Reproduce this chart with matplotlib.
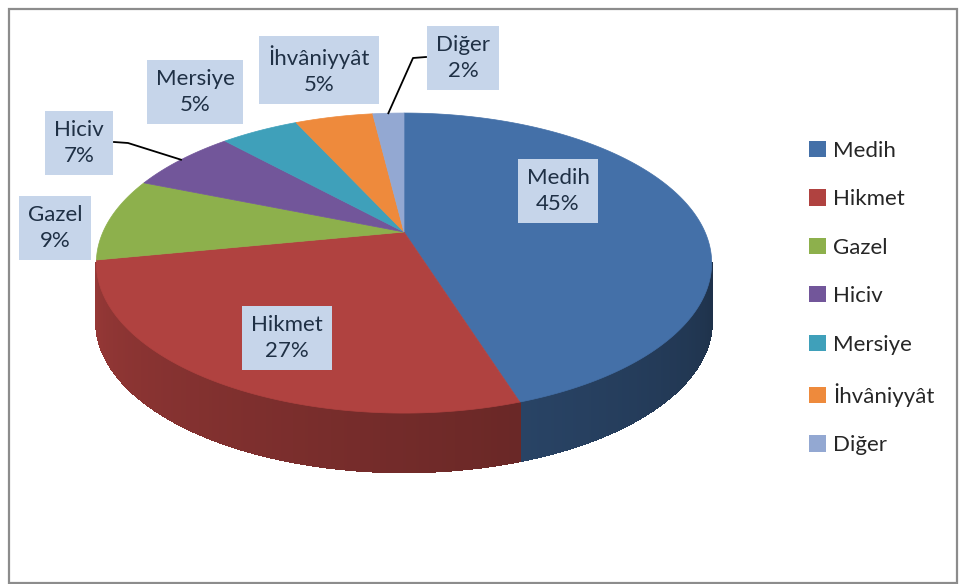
import numpy as np
import matplotlib
matplotlib.use("Agg")
import matplotlib.pyplot as plt
from matplotlib.collections import PolyCollection
from matplotlib.patches import Polygon, Rectangle, Patch
from matplotlib.colors import to_rgb

plt.rcParams["font.family"] = ["Lato", "DejaVu Sans"]

# data
categories = ["Medih", "Hikmet", "Gazel", "Hiciv", "Mersiye", "İhvâniyyât", "Diğer"]
shares = [45, 27, 9, 7, 5, 5, 2]
colors = ["#4470A8", "#B04240", "#8DB04C", "#72569A", "#3FA0BA", "#EE8A3C", "#93A8D2"]

# layout (pixel coordinates of the 960x584 canvas)
cx, cy = 404, 232          # pie apex on screen
ax_x, ax_y = 301, 143.6    # horizontal / depth scale
persp = 0.207              # perspective factor (back smaller than front)
depth = 59                 # thickness of the pie
label_pos = [(558, 191), (287, 338), (55, 228), (79, 143),
             (195, 92), (319, 70), (463, 58)]
leaders = {3: [(114, 142), (128, 143)], 6: [(426, 57), (413, 58)]}


def proj(t_deg, r=1.0):
    t = np.radians(t_deg)
    X, Z = r * np.cos(t), r * np.sin(t)
    w = 1 + persp * Z
    return cx + ax_x * X / w, cy - ax_y * Z / w


def shade(c, f):
    return tuple(min(1, v * f) for v in to_rgb(c))


fig = plt.figure(figsize=(9.6, 5.84), dpi=100)
ax = fig.add_axes([0, 0, 1, 1])
ax.set_xlim(0, 960)
ax.set_ylim(584, 0)
ax.axis("off")

ax.add_patch(Rectangle((9, 9), 948, 574, fill=False, edgecolor="#8C8C8C", lw=1.6))

total = sum(shares)
fracs = np.array(shares) / total
ends = 90 - np.cumsum(fracs) * 360
starts = np.concatenate([[90], ends[:-1]])

# side wall (visible front arc only)
t_min = -180 + np.degrees(np.arcsin(persp))
t_max = -np.degrees(np.arcsin(persp))
polys, fcs = [], []
for i in range(len(shares)):
    lo, hi = ends[i], starts[i]
    for off in (0, -360, 360):
        a, b = max(lo + off, t_min), min(hi + off, t_max)
        if a < b:
            ts = np.linspace(a, b, max(2, int((b - a) * 2) + 1))
            for t0, t1 in zip(ts[:-1], ts[1:]):
                x0, y0 = proj(t0)
                x1, y1 = proj(t1)
                polys.append([(x0, y0), (x1, y1), (x1, y1 + depth), (x0, y0 + depth)])
                s = ((t0 + t1) / 2 - t_min) / (t_max - t_min)
                fcs.append(shade(colors[i], 0.86 - 0.42 * s))
ax.add_collection(PolyCollection(polys, facecolors=fcs, edgecolors=fcs,
                                 linewidths=1.0, antialiaseds=False))

# top face
for i in range(len(shares)):
    ts = np.linspace(starts[i], ends[i], max(3, int(abs(starts[i] - ends[i]) * 2)))
    pts = [(cx, cy)] + [proj(t) for t in ts]
    ax.add_patch(Polygon(pts, closed=True, facecolor=colors[i], edgecolor=colors[i], lw=0.5))

# leader lines
for i, pts in leaders.items():
    mid = (starts[i] + ends[i]) / 2
    xs = [p[0] for p in pts] + [proj(mid)[0]]
    ys = [p[1] for p in pts] + [proj(mid)[1]]
    ax.plot(xs, ys, color="black", lw=1.3, zorder=4)

# data labels
for i, (x, y) in enumerate(label_pos):
    pct = f"{fracs[i] * 100:.0f}%"
    ax.text(x, y, f"{categories[i]}\n{pct}", ha="center", va="center",
            fontsize=16, color="#1F3045", linespacing=1.35, zorder=5,
            bbox=dict(boxstyle="square,pad=0.4", facecolor="#C6D5EA", edgecolor="none"))

handles = [Patch(facecolor=c, edgecolor="none") for c in colors]
ax.legend(handles, categories, loc="center left", bbox_to_anchor=(789 / 960, 1 - 298 / 584),
          frameon=False, fontsize=16, labelspacing=1.28, handlelength=0.75,
          handleheight=0.75, handletextpad=0.35, labelcolor="#262626")

fig.savefig("out.png", dpi=100)
